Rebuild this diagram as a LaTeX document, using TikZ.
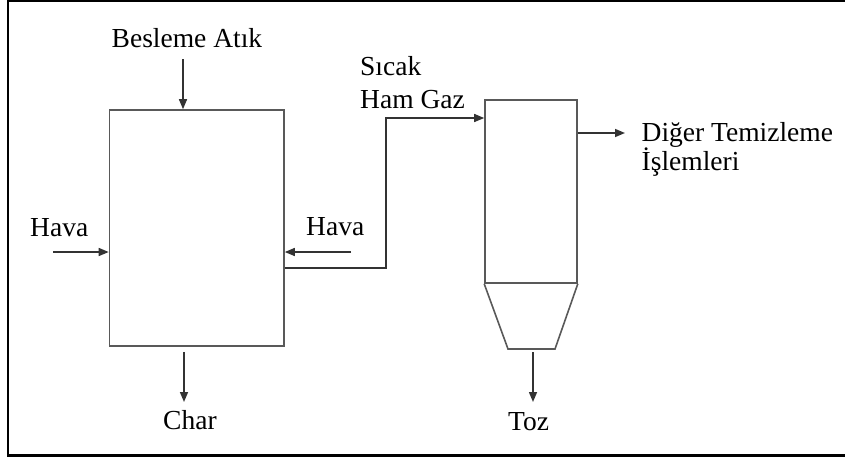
\documentclass[tikz,border=0pt]{standalone}
\usepackage{fontspec}
\setmainfont{Liberation Serif}
\usetikzlibrary{arrows.meta}
\begin{document}
\begin{tikzpicture}[x=1pt,y=-1pt,
  vessel/.style={draw=black!65, line width=1.6pt, inner sep=0pt},
  stream/.style={draw=black!80, line width=1.5pt, -{Triangle[length=10pt,width=8pt]}},
  lbl/.style={anchor=base west, inner sep=0pt, font=\fontsize{27.5}{30}\selectfont}]
\useasboundingbox (0,0) rectangle (845,461);

% outer frame (open on the right)
\draw[line width=1.5pt] (845,1) -- (8,1);
\draw[line width=2.5pt] (8,0.3) -- (8,455.7) -- (845,455.7);

% gasifier
\node[vessel, minimum width=174.5pt, minimum height=236pt] (gasifier) at (196.75,228) {};

% cyclone: cylindrical body and conical bottom
\node[vessel, minimum width=92pt, minimum height=183pt] (cyclone) at (531,191.5) {};
\coordinate (coneBL) at (508,349);
\coordinate (coneBR) at (555,349);
\draw[vessel] (cyclone.south west) -- (coneBL) -- (coneBR) -- (cyclone.south east);

% labels
\node[lbl] (feed) at (111.5,47) {Besleme Atık};
\node[lbl] (airLtxt) at (30,236) {Hava};
\node[lbl] (airRtxt) at (306,235) {Hava};
\node[lbl] (hot) at (360,75) {Sıcak};
\node[lbl] (raw) at (360,108) {Ham Gaz};
\node[lbl] (other) at (641.5,141) {Diğer Temizleme};
\node[lbl] (proc) at (641.5,170) {İşlemleri};
\node[lbl] (char) at (163,429) {Char};
\node[lbl] (dust) at (508,430) {Toz};

% streams
\coordinate (feedIn) at (183,59);
\draw[stream] (feedIn) -- (feedIn |- gasifier.north);

\coordinate (airL) at (53,252);
\draw[stream] (airL) -- (airL -| gasifier.west);

\coordinate (airR) at (351,252);
\draw[stream] (airR) -- (airR -| gasifier.east);

\coordinate (charOut) at (184,402);
\draw[stream, shorten <=5pt] (gasifier.south -| charOut) -- (charOut);

\coordinate (gasOut) at (284,268);
\coordinate (riser) at (386,118);
\draw[stream, -{Triangle[length=10pt,width=8pt]}] (gasOut -| gasifier.east) -| (riser) -- (riser -| cyclone.west);

\coordinate (cleanOut) at (625,133);
\draw[stream] (cleanOut -| cyclone.east) -- (cleanOut);

\coordinate (dustOut) at (533,402);
\draw[stream, shorten <=3pt] (dustOut |- coneBL) -- (dustOut);
\end{tikzpicture}
\end{document}
